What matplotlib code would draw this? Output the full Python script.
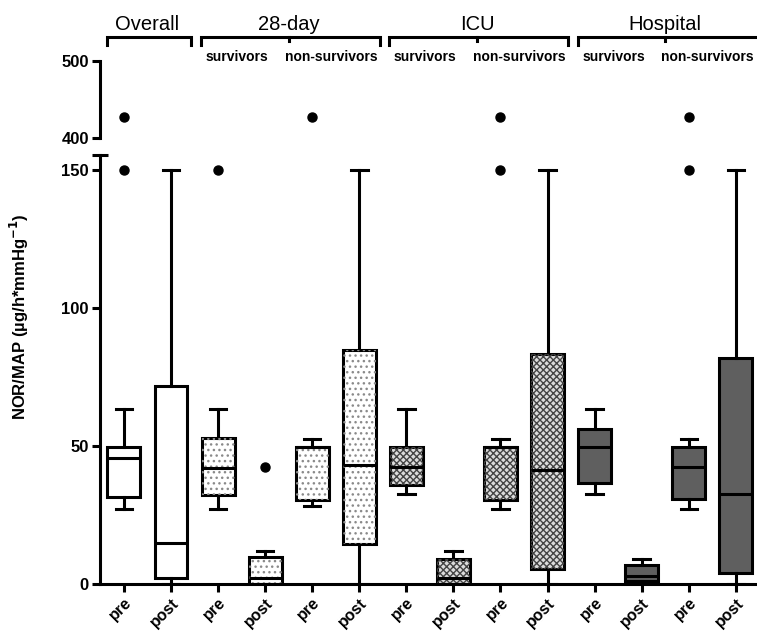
import matplotlib
matplotlib.use("Agg")
import matplotlib.pyplot as plt
import matplotlib.transforms as mtransforms
from matplotlib.patches import PathPatch
import numpy as np

plt.rcParams['font.family'] = ['Liberation Sans', 'DejaVu Sans']
plt.rcParams['hatch.linewidth'] = 1.0

# data (NOR/MAP, ug/h*mmHg^-1)
tick_labels = ['pre', 'post'] * 7
group_names = ['Overall', '28-day', 'ICU', 'Hospital']
group_spans = [(1, 2), (3, 6), (7, 10), (11, 14)]
sub_names = ['survivors', 'non-survivors']

whislo = [27.3, 0, 27.3, 0, 28.4, 0, 32.7, 0, 27.3, 0, 32.7, 0, 27.3, 0]
q1 = [31.6, 2.2, 32.4, 0, 30.5, 14.5, 36.0, 0, 30.5, 5.5, 36.7, 1.0, 30.9, 4.0]
med = [45.8, 15.0, 42.2, 2.3, 49.8, 43.3, 42.5, 2.0, 49.8, 41.5, 49.8, 2.9, 42.5, 32.7]
q3 = [49.8, 72.0, 53.1, 9.8, 49.8, 84.7, 49.8, 9.1, 49.8, 83.6, 56.4, 6.9, 49.8, 82.0]
whishi = [63.3, 150, 63.3, 12.0, 52.7, 150, 63.3, 12.0, 52.7, 150, 63.3, 9.1, 52.7, 150]
fliers = [[150, 427], [], [150], [42.5], [427], [], [], [], [150, 427], [], [], [], [150, 427], []]

stats = []
for i in range(len(med)):
    stats.append(dict(whislo=whislo[i], q1=q1[i], med=med[i], q3=q3[i],
                      whishi=whishi[i], fliers=fliers[i]))
pos = np.arange(1, len(stats) + 1)

# fill style per box
face = ['white'] * 2 + ['white'] * 4 + ['#dcdcdc'] * 4 + ['#5f5f5f'] * 4
hatch = [None] * 2 + ['...'] * 4 + ['xxxxx'] * 4 + [None] * 4
hcol = [None] * 2 + ['#8a8a8a'] * 4 + ['#454545'] * 4 + [None] * 4

fig = plt.figure(figsize=(7.57, 6.33), dpi=100)
ax = fig.add_axes([0.132, 0.0774, 0.868, 0.6777])
axt = fig.add_axes([0.132, 0.782, 0.868, 0.1216])

lw = 2.2
for a in (ax, axt):
    out = a.bxp(stats, positions=pos, widths=0.7, patch_artist=True,
                boxprops=dict(linewidth=lw, edgecolor='black'),
                whiskerprops=dict(linewidth=lw), capprops=dict(linewidth=lw),
                medianprops=dict(linewidth=lw, color='black'),
                flierprops=dict(marker='o', markerfacecolor='black',
                                markeredgecolor='black', markersize=6.5))
    for i, b in enumerate(out['boxes']):
        b.set_facecolor(face[i])
        if hatch[i]:
            hp = PathPatch(b.get_path(), transform=b.get_transform(),
                           facecolor='none', edgecolor=hcol[i], linewidth=0,
                           hatch=hatch[i], zorder=b.get_zorder() + 0.1)
            a.add_patch(hp)
    for m in out['medians']:
        m.set_zorder(5)
    for a_side in ['top', 'right']:
        a.spines[a_side].set_visible(False)
    a.spines['left'].set_linewidth(2.2)
    a.spines['bottom'].set_linewidth(2.2)
    a.set_xlim(0.49, 14.45)
    a.tick_params(axis='y', width=2.2, length=6, labelsize=12, pad=2)

# lower panel
ax.set_ylim(0, 155.6)
ax.set_yticks([0, 50, 100, 150])
ax.set_xticks(pos)
ax.set_xticklabels(tick_labels, rotation=45, ha='right', rotation_mode='anchor',
                   fontsize=11.5, fontweight='bold')
ax.tick_params(axis='x', width=2.2, length=6, pad=2)
for t in ax.get_yticklabels():
    t.set_fontweight('bold')
# break mark on top of lower spine
ax.plot([-0.012, 0.012], [1, 1], transform=ax.transAxes, color='black',
        lw=2.2, clip_on=False, solid_capstyle='butt')

# upper panel
axt.set_ylim(400, 500)
axt.set_yticks([400, 500])
for t in axt.get_yticklabels():
    t.set_fontweight('bold')
axt.spines['bottom'].set_visible(False)
axt.set_xticks([])

# group headers
tr = mtransforms.blended_transform_factory(axt.transData, fig.transFigure)
y_line, y_end, y_mid = 0.9415, 0.929, 0.935
for name, (s, e) in zip(group_names, group_spans):
    x0, x1 = s - 0.36, e + 0.43
    if e == 14:
        x1 = e + 0.8
    axt.plot([x0, x0, x1, x1], [y_end, y_line, y_line, y_end], transform=tr,
             color='black', lw=2.2, clip_on=False, solid_joinstyle='miter')
    xc = (s + e) / 2
    fig.text(xc, 0.961, name, transform=tr, ha='center', va='center',
             fontsize=14.5)
    if e - s > 1:
        axt.plot([xc, xc], [y_line, y_mid], transform=tr, color='black',
                 lw=2.2, clip_on=False)
        for k, sub in enumerate(sub_names):
            fig.text(s + 0.5 + 2 * k - 0.1, 0.91, sub, transform=tr,
                     ha='center', va='center', fontsize=10, fontweight='bold')

fig.text(0.026, 0.5, 'NOR/MAP (µg/h*mmHg$^{\\mathbf{-1}}$)', rotation=90,
         ha='center', va='center', fontsize=12, fontweight='bold')

fig.savefig('out.png', dpi=100)
